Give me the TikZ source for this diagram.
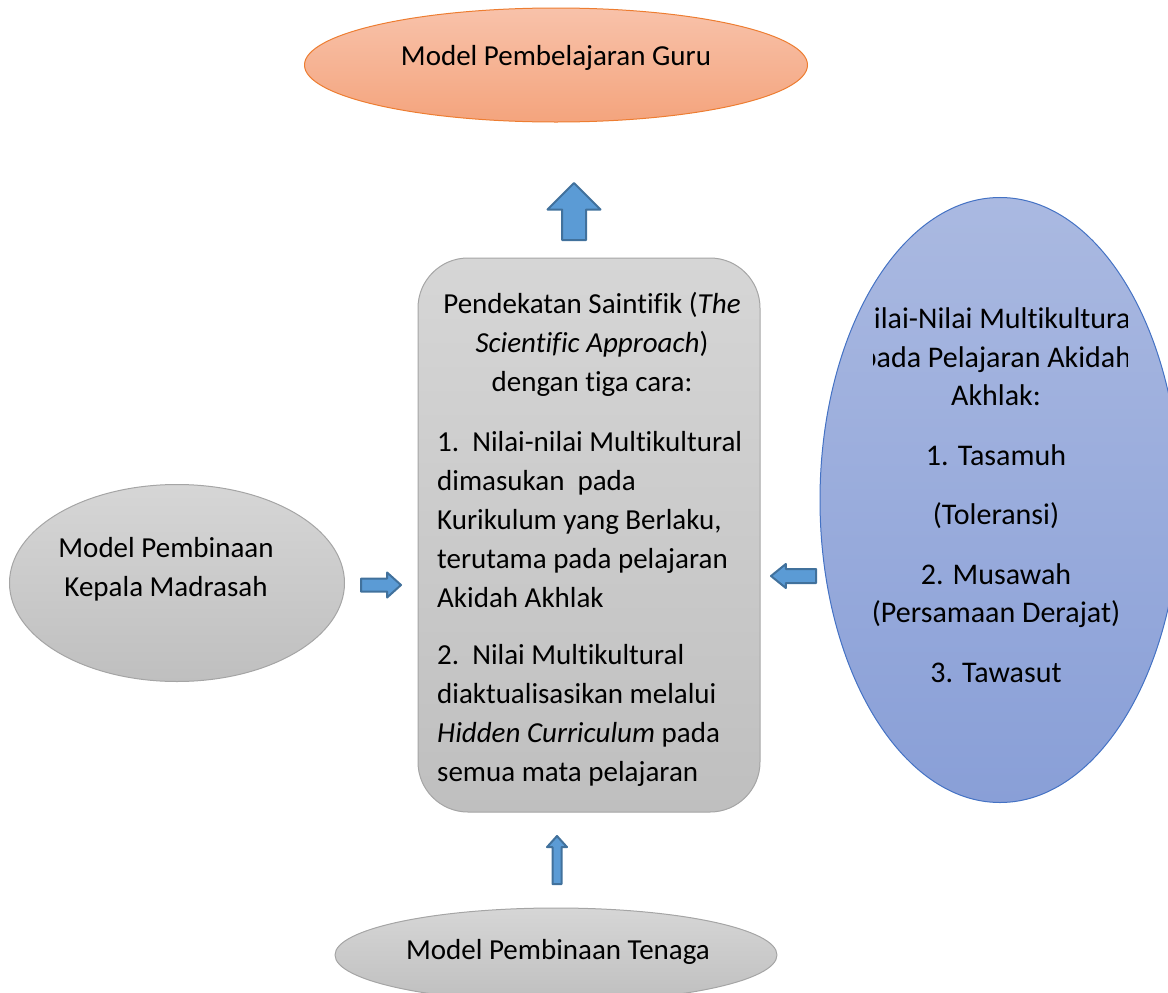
\documentclass[tikz,border=0pt]{standalone}
\usepackage{fontspec}
\setmainfont{Carlito}[Ligatures=NoCommon]
\usetikzlibrary{shapes.geometric,shapes.arrows}
\definecolor{ortop}{HTML}{F8C2AA}
\definecolor{orbot}{HTML}{F4A47D}
\definecolor{orbd}{HTML}{ED7D31}
\definecolor{grytop}{HTML}{D6D6D6}
\definecolor{grybot}{HTML}{BFBFBF}
\definecolor{grybd}{HTML}{A5A5A5}
\definecolor{blutop}{HTML}{AAB9E1}
\definecolor{blubot}{HTML}{899FD7}
\definecolor{blubd}{HTML}{4472C4}
\definecolor{arrfill}{HTML}{5B9BD5}
\definecolor{arrbd}{HTML}{41719C}
\begin{document}
\begin{tikzpicture}[x=1bp,y=-1bp,line join=round,
  txt/.style={font=\fontsize{29bp}{39bp}\selectfont,inner sep=0pt},
  grayshape/.style={draw=grybd,line width=1bp,top color=grytop,bottom color=grybot,inner sep=0pt},
  blockarr/.style={single arrow,draw=arrbd,fill=arrfill,line width=2bp,inner sep=0pt,outer sep=0pt,anchor=tail}]
  \useasboundingbox (0,0) rectangle (1168,993);
  \clip (0,0) rectangle (1168,993);
  % top
  \node[ellipse,draw=orbd,line width=1bp,top color=ortop,bottom color=orbot,inner sep=0pt,
    minimum width=503bp,minimum height=114bp,txt,text height=10bp,text depth=10bp] (guru) at (556,65) {Model Pembelajaran Guru};
  % middle box
  \node[grayshape,rounded corners=50bp,minimum width=342bp,minimum height=554bp] (pendekatan) at (589,535) {};
  \node[txt,align=center] (judul) at (592,344) {Pendekatan Saintifik (\textit{The}\\\textit{Scientific Approach})\\dengan tiga cara:};
  \node[txt,align=left,anchor=west] (cara1) at (437,520) {1.\ \ Nilai-nilai Multikultural\\dimasukan\ \ pada\\Kurikulum yang Berlaku,\\terutama pada pelajaran\\Akidah Akhlak};
  \node[txt,align=left,anchor=west] (cara2) at (437,715) {2.\ \ Nilai Multikultural\\diaktualisasikan melalui\\\textit{Hidden Curriculum} pada\\semua mata pelajaran};
  % left and bottom
  \node[grayshape,ellipse,minimum width=335bp,minimum height=197bp] (kepala) at (177,583) {};
  \node[txt,align=center] (kepalatxt) at (166,569) {Model Pembinaan\\Kepala Madrasah};
  \node[grayshape,ellipse,minimum width=442bp,minimum height=94bp] (tenaga) at (556,955) {};
  \node[txt] (tenagatxt) at (558,952) {Model Pembinaan Tenaga};
  % right
  \node[ellipse,draw=blubd,line width=1bp,top color=blutop,bottom color=blubot,inner sep=0pt,
    minimum width=360bp,minimum height=605bp] (nilai) at (1000,500) {};
  \begin{scope}
    \clip (873,200) rectangle (1127,800);
    \node[txt,font=\fontsize{30bp}{38.5bp}\selectfont,align=center] (nilaitxt) at (996,495) {Nilai-Nilai Multikultural\\pada Pelajaran Akidah\\Akhlak:\\[21bp]1. Tasamuh\\[21bp](Toleransi)\\[21bp]2. Musawah\\(Persamaan Derajat)\\[21bp]3. Tawasut};
  \end{scope}
  % arrows
  \node[blockarr,shape border rotate=90,minimum height=57bp,inner xsep=11bp,
    single arrow head extend=14.5bp,single arrow tip angle=90] (panahguru) at (574,240) {};
  \node[blockarr,minimum height=40bp,inner ysep=5.5bp,
    single arrow head extend=6bp,single arrow tip angle=84] (panahkepala) at (361,585) {};
  \node[blockarr,shape border rotate=180,minimum height=45bp,inner ysep=6bp,
    single arrow head extend=5bp,single arrow tip angle=78] (panahnilai) at (816,576) {};
  \node[blockarr,shape border rotate=90,minimum height=48bp,inner xsep=3.5bp,
    single arrow head extend=5.5bp,single arrow tip angle=84] (panahtenaga) at (557,884) {};
\end{tikzpicture}
\end{document}
